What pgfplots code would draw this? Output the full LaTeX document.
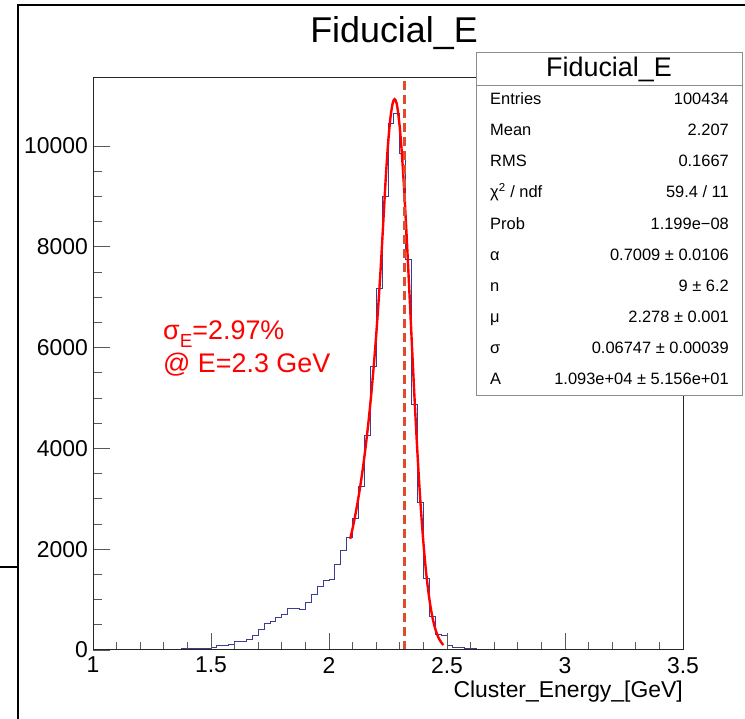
\documentclass[border=0pt]{standalone}
\usepackage{fontspec}
\setmainfont{Liberation Sans}
\usepackage{pgfplots}
\usepackage{pgfplotstable}
\pgfplotsset{compat=1.18}
\definecolor{histc}{RGB}{60,60,145}
\definecolor{dashc}{RGB}{225,75,45}
\definecolor{boxc}{RGB}{140,140,140}

\pgfplotstableread{
x y
1.000 0
1.025 0
1.050 0
1.075 0
1.100 0
1.125 0
1.150 0
1.175 0
1.200 0
1.225 0
1.250 0
1.275 6
1.300 12
1.325 13
1.350 15
1.375 30
1.400 31
1.425 33
1.450 34
1.475 36
1.500 40
1.525 82
1.550 88
1.575 119
1.600 160
1.625 168
1.650 212
1.675 278
1.700 397
1.725 516
1.750 562
1.775 640
1.800 700
1.825 827
1.850 825
1.875 808
1.900 940
1.925 1110
1.950 1257
1.975 1380
2.000 1390
2.025 1690
2.050 1970
2.075 2230
2.100 2610
2.125 3235
2.150 4250
2.175 5620
2.200 7175
2.225 9008
2.250 10450
2.275 10640
2.300 9850
2.325 7740
2.350 4880
2.375 2920
2.400 1420
2.425 670
2.450 310
2.475 290
2.500 80
2.525 55
2.550 40
2.575 30
2.600 22
2.625 18
2.650 15
2.675 12
2.700 8
2.725 6
2.750 4
2.775 3
2.800 4
2.825 6
2.850 5
2.875 3
2.900 2
2.925 1
2.950 1
2.975 2
3.000 5
3.025 3
3.050 1
3.075 0
3.100 1
3.125 0
3.150 0
3.175 1
3.200 0
3.225 0
3.250 0
3.275 1
3.300 0
3.325 0
3.350 0
3.375 1
3.400 4
3.425 2
3.450 0
3.475 0
3.500 0
}\histdata

\tikzset{
  stl/.style={anchor=base west, inner sep=0pt, font=\fontsize{16.5}{19}\selectfont},
  str/.style={anchor=base east, inner sep=0pt, font=\fontsize{16.5}{19}\selectfont},
}

\begin{document}
\begin{tikzpicture}
\useasboundingbox (0,0) rectangle (745bp,719bp);
\fill[white] (0,0) rectangle (745bp,719bp);
\begin{axis}[
  at={(93bp,69bp)}, anchor=south west,
  scale only axis, width=590bp, height=572bp,
  xmin=1, xmax=3.5, ymin=0, ymax=11350,
  axis on top,
  xtick={1,1.5,2,2.5,3,3.5},
  ytick={0,2000,4000,6000,8000,10000},
  minor x tick num=4, minor y tick num=3,
  tick align=inside, xtick pos=bottom, ytick pos=left,
  major tick length=17bp, minor tick length=8.5bp,
  every tick/.style={black!65, line width=0.8bp},
  axis line style={black!85, line width=1bp},
  scaled y ticks=false,
  /pgf/number format/1000 sep={},
  /pgf/number format/assume math mode=true,
  tick label style={font=\fontsize{23}{27}\selectfont},
  xticklabel style={inner sep=0pt, yshift=-7bp},
  yticklabel style={inner sep=0pt, xshift=-5bp},
]
\addplot[const plot mark left, histc, line width=1bp] table[x=x,y=y] {\histdata};
\addplot[red, line width=2.4bp, smooth] coordinates {
(2.09,2207) (2.10,2414) (2.11,2643) (2.12,2897) (2.13,3178) (2.14,3490)
(2.15,3836) (2.16,4220) (2.17,4648) (2.18,5124) (2.19,5656) (2.20,6249)
(2.21,6913) (2.22,7655) (2.23,8487) (2.24,9327) (2.25,10028) (2.26,10548)
(2.27,10853) (2.278,10930) (2.285,10871) (2.29,10758) (2.30,10364) (2.31,9767)
(2.32,9005) (2.33,8121) (2.34,7166) (2.35,6185) (2.36,5222) (2.37,4314)
(2.38,3486) (2.39,2756) (2.40,2131) (2.41,1612) (2.42,1194) (2.43,864)
(2.44,612) (2.45,424) (2.46,287) (2.47,191) (2.48,124) (2.485,99)
};
\addplot[dashc, line width=2.2bp, dash pattern=on 9bp off 5bp] coordinates {(2.32,0) (2.32,11350)};
\end{axis}

% outer pad frame
\draw[black, line width=2bp] (18bp,0) -- (18bp,714bp) -- (745bp,714bp);
\draw[black, line width=1.5bp] (0,152bp) -- (18bp,152bp);

% title
\node[anchor=base, inner sep=0pt, font=\fontsize{36}{40}\selectfont] at (394bp,676bp) {Fiducial\_E};
% x label
\node[anchor=base east, inner sep=0pt, font=\fontsize{23}{27}\selectfont] at (683bp,22bp) {Cluster\_Energy\_[GeV]};

% red annotation
\node[anchor=base west, inner sep=0pt, text=red, font=\fontsize{27}{30}\selectfont] at (163bp,379bp) {σ\raisebox{-7.5bp}{\fontsize{19}{21}\selectfont E}=2.97\%};
\node[anchor=base west, inner sep=0pt, text=red, font=\fontsize{27}{30}\selectfont] at (163bp,346bp) {@ E=2.3 GeV};

% stats box
\draw[boxc, line width=1bp, fill=white] (476bp,323bp) rectangle (742bp,666bp);
\draw[boxc, line width=1bp] (476bp,633bp) -- (742bp,633bp);
\node[anchor=base, inner sep=0pt, font=\fontsize{27}{30}\selectfont] at (609bp,642bp) {Fiducial\_E};
\node[stl] at (490bp,614bp) {Entries};   \node[str] at (729bp,614bp) {100434};
\node[stl] at (490bp,583bp) {Mean};      \node[str] at (729bp,583bp) {2.207};
\node[stl] at (490bp,552bp) {RMS};       \node[str] at (729bp,552bp) {0.1667};
\node[stl] at (490bp,521bp) {χ\textsuperscript{2} / ndf}; \node[str] at (729bp,521bp) {59.4 / 11};
\node[stl] at (490bp,489bp) {Prob};      \node[str] at (729bp,489bp) {1.199e−08};
\node[stl] at (490bp,458bp) {α};         \node[str] at (729bp,458bp) {0.7009 ± 0.0106};
\node[stl] at (490bp,427bp) {n};         \node[str] at (729bp,427bp) {9 ± 6.2};
\node[stl] at (490bp,396bp) {μ};         \node[str] at (729bp,396bp) {2.278 ± 0.001};
\node[stl] at (490bp,365bp) {σ};         \node[str] at (729bp,365bp) {0.06747 ± 0.00039};
\node[stl] at (490bp,334bp) {A};         \node[str] at (729bp,334bp) {1.093e+04 ± 5.156e+01};
\end{tikzpicture}
\end{document}
